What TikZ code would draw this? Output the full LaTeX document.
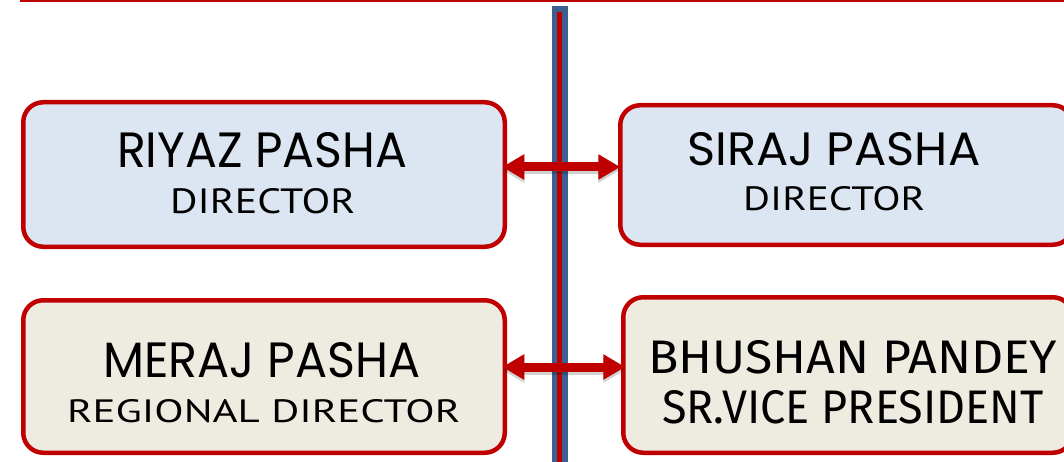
\documentclass[tikz,border=0pt]{standalone}
\usepackage{fontspec}
\usepackage{graphicx}
\usetikzlibrary{arrows.meta}
\newfontfamily\namefont{Poppins}
\newfontfamily\titlefont{PT Sans}
\newfontfamily\dinfont{Fira Sans}
\definecolor{boxred}{HTML}{C00000}
\definecolor{fillblue}{HTML}{DCE6F2}
\definecolor{fillbeige}{HTML}{EEECE1}
\definecolor{barblue}{HTML}{3C6190}
\tikzset{
  orgbox/.style={draw=boxred, line width=4.5pt, rounded corners=20pt, inner sep=0pt},
  txt/.style={inner sep=0pt, anchor=base west},
  dblarrow/.style={draw=boxred, line width=9pt, {Triangle[length=22pt,width=24pt]}-{Triangle[length=22pt,width=24pt]}},
  dblshadow/.style={draw=black, opacity=0.18, line width=9pt, {Triangle[length=22pt,width=24pt]}-{Triangle[length=22pt,width=24pt]}}
}
\begin{document}
\begin{tikzpicture}[x=1pt,y=-1pt]
\useasboundingbox (0,0) rectangle (1064,462);
\fill[white] (0,0) rectangle (1064,462);
% top rule
\coordinate (tl) at (20,1);
\coordinate (tr) at (1064,1);
\draw[boxred, line width=2pt] (tl) -- (tr);
% boxes
\node[orgbox, fill=fillblue, minimum width=481.5pt, minimum height=144.5pt] (riyaz) at (264,174.5) {};
\node[orgbox, fill=fillblue, minimum width=452.5pt, minimum height=139.5pt] (siraj) at (846.5,175) {};
\node[orgbox, fill=fillbeige, minimum width=481.5pt, minimum height=152.5pt] (meraj) at (264,376.5) {};
\node[orgbox, fill=fillbeige, minimum width=449.5pt, minimum height=155.5pt] (bhushan) at (848,375) {};
% vertical bar
\fill[barblue] (552,6) rectangle (568,462);
\coordinate (vt) at (559.5,12);
\coordinate (vb) at (559.5,462);
\draw[boxred, line width=5pt] (vt) -- (vb);
% arrows
\coordinate (a1) at (560,167);
\coordinate (a2) at (560,367);
\coordinate (s1) at (562,170);
\coordinate (s2) at (562,370);
\draw[dblshadow, shorten <=-4.75pt, shorten >=-2.25pt] (riyaz.east |- s1) -- (siraj.west |- s1);
\draw[dblshadow, shorten <=-4.75pt, shorten >=-4.25pt] (meraj.east |- s2) -- (bhushan.west |- s2);
\draw[dblarrow, shorten <=-4.75pt, shorten >=-2.25pt] (riyaz.east |- a1) -- (siraj.west |- a1);
\draw[dblarrow, shorten <=-4.75pt, shorten >=-4.25pt] (meraj.east |- a2) -- (bhushan.west |- a2);
% texts
\node[txt] (riyazn) at (117,168) {\resizebox{290pt}{35pt}{\namefont RIYAZ PASHA}};
\node[txt] (riyazt) at (170,213) {\resizebox{185pt}{25pt}{\titlefont DIRECTOR}};
\node[txt] (sirajn) at (687,166) {\resizebox{293pt}{33pt}{\namefont SIRAJ PASHA}};
\node[txt] (sirajt) at (743,211) {\resizebox{182pt}{24pt}{\titlefont DIRECTOR}};
\node[txt] (merajn) at (103,377) {\resizebox{317pt}{35pt}{\namefont MERAJ PASHA}};
\node[txt] (merajt) at (67,422) {\resizebox{393pt}{23pt}{\titlefont REGIONAL DIRECTOR}};
\node[txt] (bhushann) at (648,373) {\resizebox{409pt}{33pt}{\dinfont BHUSHAN PANDEY}};
\node[txt] (bhushant) at (662,423) {\resizebox{381pt}{33pt}{\dinfont SR.VICE PRESIDENT}};
\end{tikzpicture}
\end{document}
